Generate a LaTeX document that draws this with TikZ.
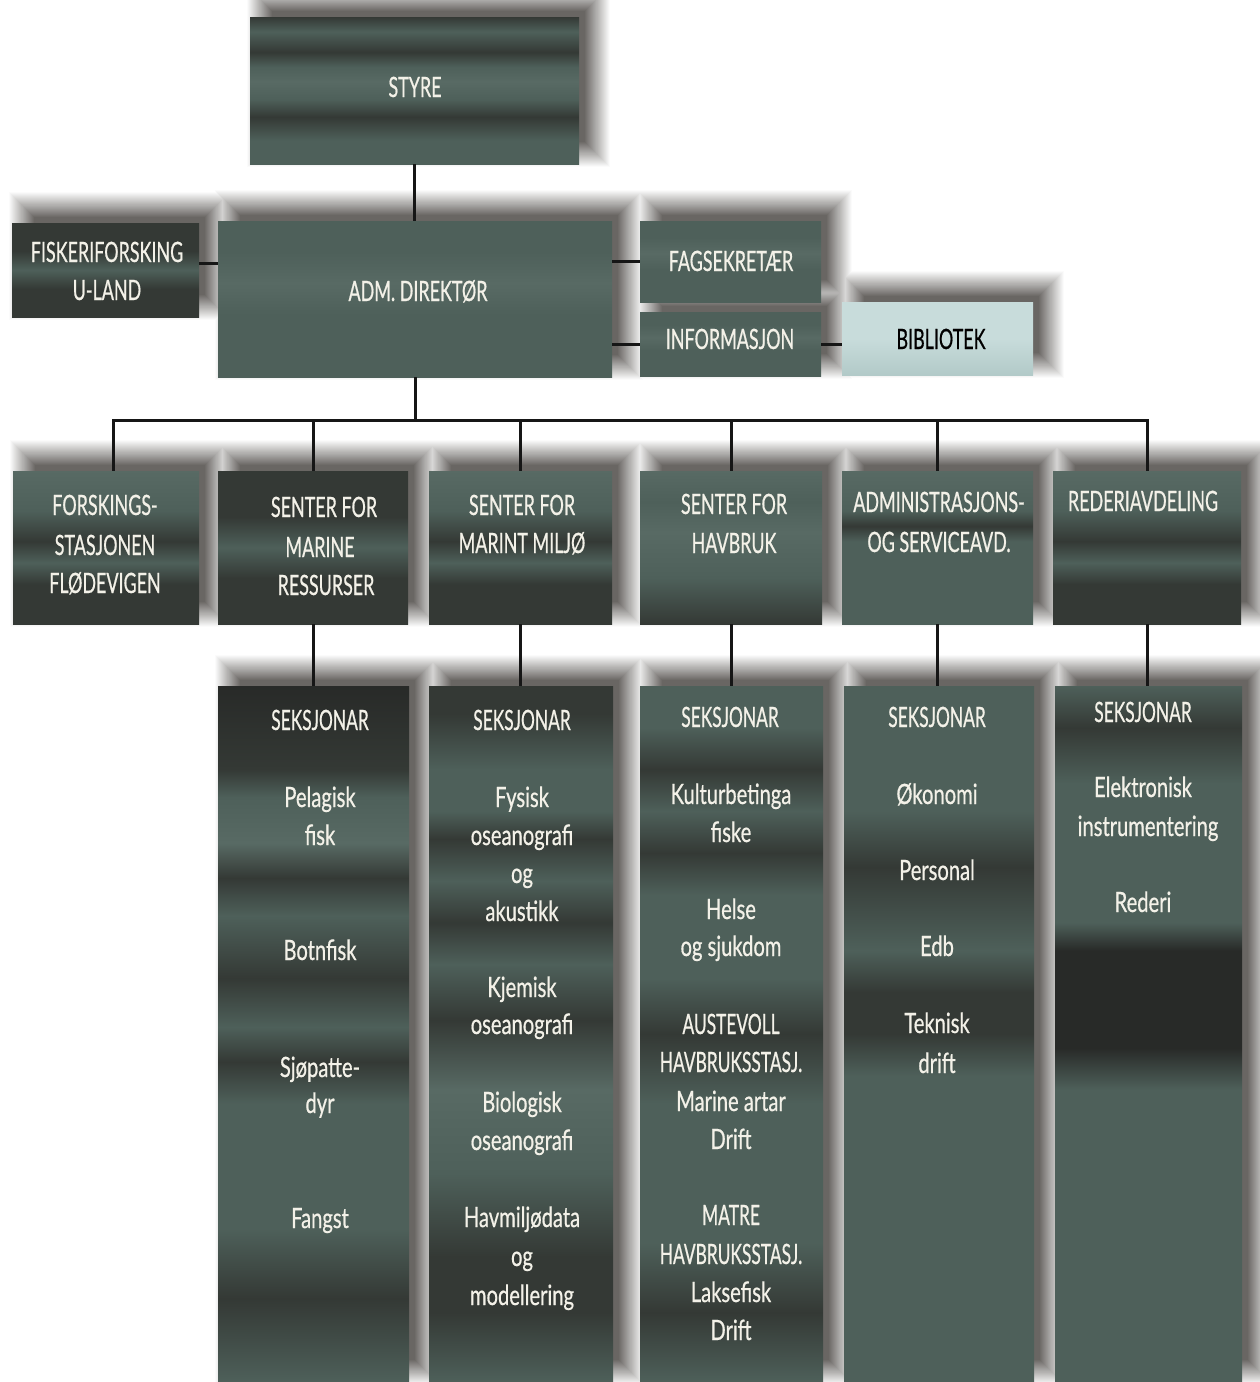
\documentclass[tikz,border=0pt]{standalone}
\usepackage{fontspec}
\newfontfamily\capfont[FakeStretch=0.64,FakeBold=0.6]{Lato}
\newfontfamily\secfont[FakeStretch=0.62,FakeBold=0.6]{Lato}
\newfontfamily\lowfont[FakeStretch=0.72,FakeBold=0.6]{Lato}
\usetikzlibrary{backgrounds}
\definecolor{tmid}{RGB}{78,96,90}
\definecolor{tlight}{RGB}{88,106,100}
\definecolor{tdark}{RGB}{52,57,53}
\definecolor{tdeep}{RGB}{40,42,40}
\definecolor{txt}{RGB}{243,241,232}
\definecolor{bibA}{RGB}{200,220,219}
\definecolor{bibB}{RGB}{178,202,200}
\definecolor{linec}{RGB}{22,22,22}
\definecolor{shc}{RGB}{58,54,50}
% vertical shadings: visible part 25bp (bottom) .. 75bp (top)
\pgfdeclareverticalshading{sStyre}{100bp}{color(0bp)=(tmid); color(25bp)=(tmid); color(33bp)=(tmid); color(41bp)=(tdark); color(47bp)=(tmid); color(53bp)=(tlight); color(58bp)=(tmid); color(63bp)=(tdark); color(70bp)=(tmid); color(75bp)=(tdark); color(100bp)=(tdark)}
\pgfdeclareverticalshading{sPlain}{100bp}{color(0bp)=(tmid); color(25bp)=(tmid); color(45bp)=(tmid); color(55bp)=(tlight); color(65bp)=(tmid); color(75bp)=(tmid); color(100bp)=(tmid)}
\pgfdeclareverticalshading{sDark}{100bp}{color(0bp)=(tdark); color(25bp)=(tdark); color(40bp)=(tdark); color(50bp)=(tmid); color(60bp)=(tdark); color(75bp)=(tdark); color(100bp)=(tdark)}
\pgfdeclareverticalshading{sRA}{100bp}{color(0bp)=(tdark); color(25bp)=(tdark); color(38bp)=(tdark); color(45bp)=(tmid); color(52bp)=(tdark); color(62bp)=(tmid); color(75bp)=(tlight); color(100bp)=(tlight)}
\pgfdeclareverticalshading{sRB}{100bp}{color(0bp)=(tdark); color(25bp)=(tdark); color(40bp)=(tmid); color(55bp)=(tlight); color(65bp)=(tmid); color(75bp)=(tlight); color(100bp)=(tlight)}
\pgfdeclareverticalshading{sRC}{100bp}{color(0bp)=(tmid); color(25bp)=(tmid); color(40bp)=(tmid); color(52bp)=(tmid); color(57bp)=(tdark); color(62bp)=(tmid); color(75bp)=(tlight); color(100bp)=(tlight)}
\pgfdeclareverticalshading{sC1}{100bp}{color(0bp)=(tmid); color(25bp)=(tmid); color(31bp)=(tdark); color(36bp)=(tmid); color(45bp)=(tmid); color(48bp)=(tdark); color(50.5bp)=(tmid); color(54bp)=(tdark); color(58.5bp)=(tmid); color(61.2bp)=(tdark); color(63.7bp)=(tlight); color(67bp)=(tmid); color(69bp)=(tdark); color(75bp)=(tdeep); color(100bp)=(tdeep)}
\pgfdeclareverticalshading{sC2}{100bp}{color(0bp)=(tmid); color(25bp)=(tmid); color(30bp)=(tdark); color(34bp)=(tdark); color(40bp)=(tmid); color(46bp)=(tlight); color(51bp)=(tdark); color(55bp)=(tmid); color(58bp)=(tdark); color(61bp)=(tmid); color(64bp)=(tdark); color(66bp)=(tmid); color(69bp)=(tmid); color(73bp)=(tdark); color(75bp)=(tdark); color(100bp)=(tdark)}
\pgfdeclareverticalshading{sC3}{100bp}{color(0bp)=(tmid); color(25bp)=(tmid); color(30bp)=(tdark); color(35bp)=(tmid); color(45bp)=(tmid); color(50bp)=(tdark); color(54bp)=(tmid); color(60bp)=(tmid); color(63bp)=(tdark); color(66bp)=(tmid); color(69bp)=(tdark); color(72bp)=(tmid); color(75bp)=(tmid); color(100bp)=(tmid)}
\pgfdeclareverticalshading{sC4}{100bp}{color(0bp)=(tmid); color(25bp)=(tmid); color(40bp)=(tmid); color(47bp)=(tmid); color(50bp)=(tdark); color(53bp)=(tdark); color(56bp)=(tmid); color(62bp)=(tdark); color(66bp)=(tmid); color(72bp)=(tmid); color(75bp)=(tmid); color(100bp)=(tmid)}
\pgfdeclareverticalshading{sC5}{100bp}{color(0bp)=(tmid); color(25bp)=(tmid); color(40bp)=(tmid); color(46bp)=(tmid); color(49bp)=(tdeep); color(56bp)=(tdeep); color(58bp)=(tmid); color(68bp)=(tmid); color(72bp)=(tdark); color(75bp)=(tmid); color(100bp)=(tmid)}
\pgfdeclareverticalshading{sBib}{100bp}{color(0bp)=(bibB); color(25bp)=(bibB); color(50bp)=(bibA); color(75bp)=(bibA); color(100bp)=(bibA)}
\begin{document}
\begin{tikzpicture}[x=1pt,y=-1pt,
  box/.style={rectangle, inner sep=0pt, draw=none, shade},
  lbl/.style={font=\capfont\fontsize{28}{32}\selectfont, text=txt, anchor=base, inner sep=0pt},
  lblC/.style={font=\secfont\fontsize{28}{32}\selectfont, text=txt, anchor=base, inner sep=0pt},
  lblL/.style={font=\lowfont\fontsize{28}{32}\selectfont, text=txt, anchor=base, inner sep=0pt},
  conn/.style={draw=linec, line width=3pt}]
\useasboundingbox (0,0) rectangle (1259,1382);

% top boxes
\node[box, shading=sStyre, minimum width=329pt, minimum height=147pt] (styre) at (414.5,90.5) {};
\node[box, shading=sDark,  minimum width=187pt, minimum height=94pt]  (fisk)  at (105.5,270) {};
\node[box, shading=sPlain, minimum width=394pt, minimum height=156pt] (adm)   at (415,299) {};
\node[box, shading=sPlain, minimum width=181pt, minimum height=81pt]  (fag)   at (730.5,261.5) {};
\node[box, shading=sPlain, minimum width=181pt, minimum height=64pt]  (info)  at (730.5,344) {};
\node[box, shading=sBib,   minimum width=191pt, minimum height=73pt]  (bib)   at (937.5,338.5) {};

% second row
\node[box, shading=sRA, minimum width=186pt, minimum height=153pt] (r1) at (106,547.5) {};
\node[box, shading=sDark, minimum width=190pt, minimum height=153pt] (r2) at (313,547.5) {};
\node[box, shading=sRA, minimum width=183pt, minimum height=153pt] (r3) at (520.5,547.5) {};
\node[box, shading=sRB, minimum width=182pt, minimum height=153pt] (r4) at (731,547.5) {};
\node[box, shading=sRC, minimum width=191pt, minimum height=153pt] (r5) at (937.5,547.5) {};
\node[box, shading=sRA, minimum width=188pt, minimum height=153pt] (r6) at (1147,547.5) {};

% columns
\node[box, shading=sC1, minimum width=191pt, minimum height=696pt] (c1) at (313.5,1034) {};
\node[box, shading=sC2, minimum width=184pt, minimum height=696pt] (c2) at (521,1034) {};
\node[box, shading=sC3, minimum width=183pt, minimum height=696pt] (c3) at (731.5,1034) {};
\node[box, shading=sC4, minimum width=190pt, minimum height=696pt] (c4) at (939,1034) {};
\node[box, shading=sC5, minimum width=187pt, minimum height=696pt] (c5) at (1148.5,1034) {};

% paper and soft shadows (opaque layers, outer = light, inner = dark)
\begin{scope}[on background layer]
\fill[white] (0,0) rectangle (1259,1382);
\foreach \e in {18,17,...,-8} {
  \pgfmathsetmacro\g{int(76*(18-\e)/26)}
  \pgfmathsetmacro\ax{14-\e}
  \pgfmathsetmacro\ay{-14+\e}
  \pgfmathsetmacro\bx{14+\e}
  \pgfmathsetmacro\by{-14-\e}
  \foreach \n in {styre,fisk,adm,fag,info,bib,r1,r2,r3,r4,r5,r6,c1,c2,c3,c4,c5} {
    \fill[shc!\g!white] ([shift={(\ax,\ay)}]\n.south west) rectangle ([shift={(\bx,\by)}]\n.north east);
  }
}
\end{scope}

% connectors
\coordinate (bus) at (415,420);
\draw[conn] (styre.south) -- (styre.south |- adm.north);
\draw[conn] ([yshift=7pt]fisk.east) -- ([yshift=7pt]fisk.east -| adm.west);
\draw[conn] (fag.west) -- (fag.west -| adm.east);
\draw[conn] (info.west) -- (info.west -| adm.east);
\draw[conn] (info.east) -- (info.east -| bib.west);
\draw[conn] (adm.south) -- (adm.south |- bus);
\draw[conn] ([xshift=7pt]r1.north) -- ([xshift=7pt]r1.north |- bus) -- (r6.north |- bus) -- (r6.north);
\foreach \r in {r2,r3,r4,r5} { \draw[conn] (\r.north) -- (\r.north |- bus); }
\draw[conn] (r2.south) -- (r2.south |- c1.north);
\draw[conn] (r3.south) -- (r3.south |- c2.north);
\draw[conn] (r4.south) -- (r4.south |- c3.north);
\draw[conn] (r5.south) -- (r5.south |- c4.north);
\draw[conn] (r6.south) -- (r6.south |- c5.north);

% top labels
\node[lbl] (tstyre) at (415,97) {STYRE};
\node[lbl] (tfisk1) at (107,262) {FISKERIFORSKING};
\node[lbl] (tfisk2) at (107,300) {U-LAND};
\node[lbl] (tadm) at (418,301) {ADM.\ DIREKTØR};
\node[lbl] (tfag) at (731,271) {FAGSEKRETÆR};
\node[lbl] (tinfo) at (730,349) {INFORMASJON};
\node[lbl, text={RGB:red,29;green,38;blue,36}] (tbib) at (941,349) {BIBLIOTEK};

% second row labels
\foreach \x/\y/\t [count=\i] in {105/515/FORSKINGS-, 105/555/STASJONEN, 105/593/FLØDEVIGEN,
  324/517/SENTER FOR, 320/557/MARINE, 326/595/RESSURSER,
  522/515/SENTER FOR, 522/553/MARINT MILJØ,
  734/514/SENTER FOR, 734/553/HAVBRUK,
  939/512/ADMINISTRASJONS-, 939/552/OG SERVICEAVD.,
  1143/511/REDERIAVDELING}
  { \node[lbl] (rt\i) at (\x,\y) {\t}; }

% column headings and capitalised lines
\foreach \x/\y/\t [count=\i] in {320/730/SEKSJONAR, 522/730/SEKSJONAR, 730/727/SEKSJONAR, 937/727/SEKSJONAR, 1143/722/SEKSJONAR,
  731/1034/AUSTEVOLL, 731/1072/HAVBRUKSSTASJ., 731/1225/MATRE, 731/1264/HAVBRUKSSTASJ.}
  { \node[lblC] (ch\i) at (\x,\y) {\t}; }

% column entries
\foreach \x/\y/\t [count=\i] in {320/807/Pelagisk, 320/845/fisk, 320/960/Botnfisk, 320/1077/Sjøpatte-, 320/1113/dyr, 320/1228/Fangst}
  { \node[lblL] (ca\i) at (\x,\y) {\t}; }
\foreach \x/\y/\t [count=\i] in {522/807/Fysisk, 522/845/oseanografi, 522/883/og, 522/921/akustikk, 522/997/Kjemisk, 522/1034/oseanografi, 522/1112/Biologisk, 522/1150/oseanografi, 522/1227/Havmiljødata, 522/1266/og, 522/1305/modellering}
  { \node[lblL] (cb\i) at (\x,\y) {\t}; }
\foreach \x/\y/\t [count=\i] in {731/804/Kulturbetinga, 731/842/fiske, 731/919/Helse, 731/956/og sjukdom, 731/1111/Marine artar, 731/1149/Drift, 731/1302/Laksefisk, 731/1340/Drift}
  { \node[lblL] (cc\i) at (\x,\y) {\t}; }
\foreach \x/\y/\t [count=\i] in {937/804/Økonomi, 937/880/Personal, 937/956/Edb, 937/1033/Teknisk, 937/1073/drift}
  { \node[lblL] (cd\i) at (\x,\y) {\t}; }
\foreach \x/\y/\t [count=\i] in {1143/797/Elektronisk, 1148/836/instrumentering, 1143/912/Rederi}
  { \node[lblL] (ce\i) at (\x,\y) {\t}; }
\end{tikzpicture}
\end{document}
